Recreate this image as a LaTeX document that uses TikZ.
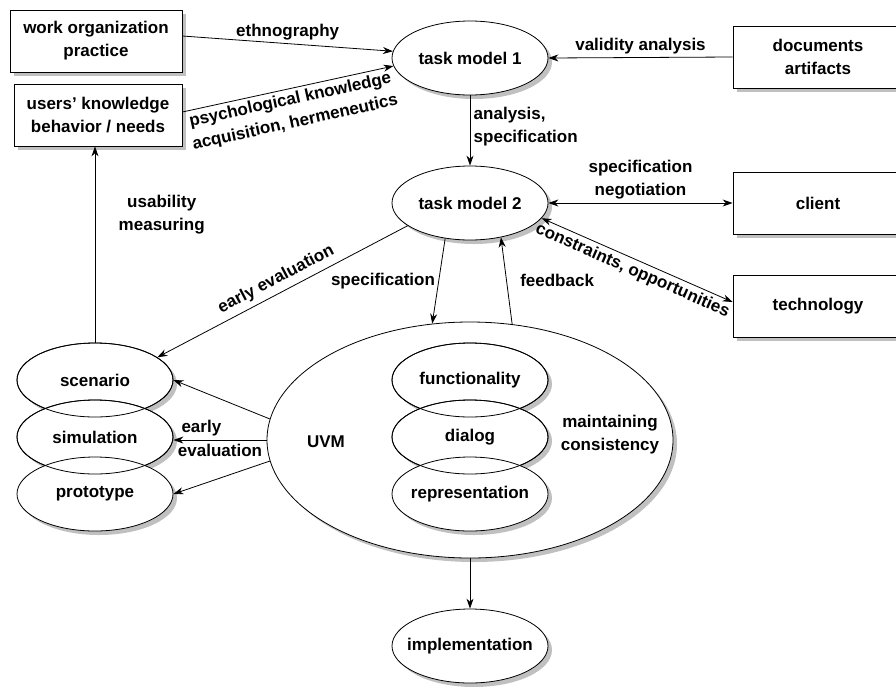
\documentclass[tikz,border=0pt]{standalone}
\usepackage{fontspec}
\setmainfont{Liberation Sans}
\usetikzlibrary{shapes.geometric, arrows.meta}

\definecolor{shadowgray}{RGB}{192,192,192}

\begin{document}
\begin{tikzpicture}[x=1pt, y=-1pt, >={Stealth[length=10pt, width=7pt]},
        every node/.style={font=\fontsize{17}{23}\selectfont\bfseries},
        link/.style={line width=0.8pt},
        box/.style={draw, fill=white, line width=0.8pt, minimum width=170, minimum height=62, align=center},
        blob/.style={ellipse, draw, fill=white, line width=0.8pt, minimum width=156, minimum height=74, inner sep=0pt}]
        \useasboundingbox (0,0) rectangle (896,686);

        % Drop shadows of the outer shapes
        \foreach \x/\y/\w in {96/41/172, 98/115/168, 818/57/170, 818/203/170, 818/306/170}
            \fill[shadowgray] (\x-\w/2+4,\y-27) rectangle (\x+\w/2+4,\y+35);
        \foreach \x/\y in {470/58, 470/203, 95/380, 95/437, 95/494, 470/646}
            \fill[shadowgray] (\x+4,\y+4) ellipse (78 and 37);
        \fill[shadowgray] (474,444) ellipse (203 and 118);

        % Sources around the task models
        \node[box, minimum width=172] (work) at (96,41) {work organization\\practice};
        \node[box, minimum width=168] (users) at (98,115) {users' knowledge\\behavior / needs};
        \node[box] (docs) at (818,57) {documents\\artifacts};
        \node[box] (client) at (818,203) {client};
        \node[box] (tech) at (818,306) {technology};

        % Task models
        \node[blob] (tm1) at (470,58) {task model 1};
        \node[blob] (tm2) at (470,203) {task model 2};

        % User virtual machine
        \node[ellipse, draw, fill=white, link, minimum width=406, minimum height=236] (uvm) at (470,440) {};
        \node (uvmname) at (326,442) {UVM};
        \node[align=center] (consist) at (610,435) {maintaining\\consistency};
        \foreach \y in {380, 437, 494}
            \fill[shadowgray] (474,\y+4) ellipse (78 and 37);
        \foreach \n/\y/\t in {func/380/functionality, dial/437/dialog, repr/494/representation} {
            \node[blob] (\n) at (470,\y) {\makebox[0pt]{\t}};
        }

        % Early representations
        \foreach \n/\y/\t in {scen/380/scenario, simu/437/simulation, prot/494/prototype} {
            \node[blob] (\n) at (95,\y) {\t};
        }
        \node[blob] (impl) at (470,646) {\makebox[0pt]{implementation}};

        % Outlines of the stacked ellipses again, over the fills
        \foreach \n in {scen, simu, func, dial}
            \draw[link] (\n.center) ellipse (78 and 37);

        % Arrows into task model 1
        \draw[->, link] ([yshift=5pt]work.east) -- node[above] (ethno) {ethnography} (tm1.175);
        \draw[->, link] ([yshift=3pt]users.east) -- node[sloped, below, align=center] (psych) {psychological knowledge\\acquisition, hermeneutics} (tm1.186);
        \draw[->, link] (docs.west) -- node[above] (valid) {validity analysis} (tm1.east);

        % Task model 2
        \draw[->, link] (tm1.south) -- node[right, align=left, pos=0.45] (anaspec) {analysis,\\specification} (tm2.north);
        \draw[<->, link] (tm2.east) -- node[above, align=center] (nego) {specification\\negotiation} (client.west);
        \draw[<->, link] (tm2.348) -- node[sloped, below] (constr) {constraints, opportunities} ([yshift=4pt]tech.west);

        % Task model 2 and the UVM
        \draw[->, link] (tm2.235) -- node[left] (specif) {specification} (uvm.108);
        \draw[->, link] (uvm.70) -- node[right=10pt] (feedb) {feedback} (tm2.312);
        \draw[<-, link] (scen.20) -- node[sloped, above=2pt] (earlyeval) {early evaluation} (tm2.200);
        \draw[->, link] (scen.north) -- node[right=20pt, align=center, pos=0.65] (usab) {usability\\measuring} (scen.north |- users.south);

        % Early evaluation of the UVM
        \draw[->, link] (uvm.174) -- (scen.east);
        \draw[->, link] (uvm.west) -- node[above, pos=0.7] (early) {early} node[below] (evalu) {evaluation} (uvm.west -| simu.east);
        \draw[->, link] (uvm.186) -- (prot.east);
        \draw[->, link] (uvm.south) -- (impl.north);
    \end{tikzpicture}
\end{document}
